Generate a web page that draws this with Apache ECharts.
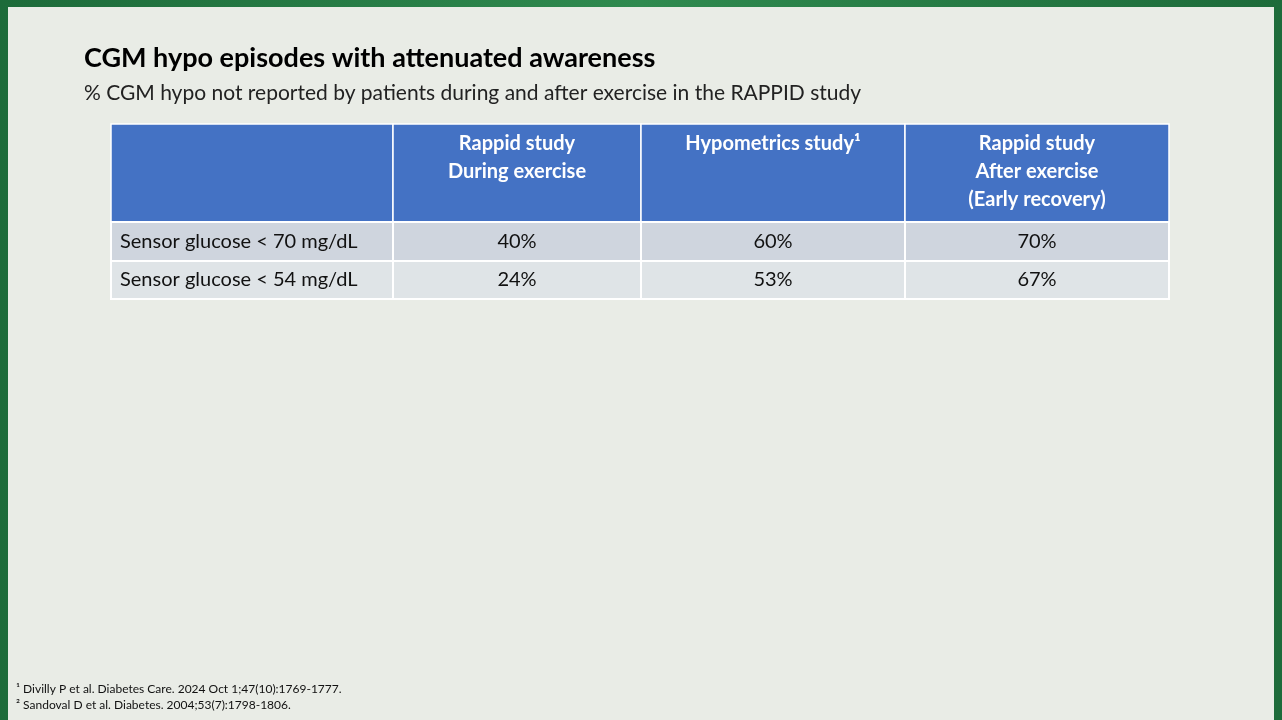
<!DOCTYPE html>
<html><head><meta charset="utf-8">
<script src="https://cdn.jsdelivr.net/npm/echarts@6/dist/echarts.min.js"></script>
<style>
html,body{margin:0;padding:0;width:1282px;height:720px;overflow:hidden;background:linear-gradient(90deg,#1d6b3a,#2f8a4f 50%,#1d6b3a);}
#c{position:absolute;left:8px;top:7px;width:1266px;height:713px;background:#e9ece6;}
</style></head><body><div id="c"></div>
<script>
const title = 'CGM hypo episodes with attenuated awareness';
const subtitle = '% CGM hypo not reported by patients during and after exercise in the RAPPID study';
const headers = ['', 'Rappid study\nDuring exercise', 'Hypometrics study¹', 'Rappid study\nAfter exercise\n(Early recovery)'];
const rowLabels = ['Sensor glucose < 70 mg/dL', 'Sensor glucose < 54 mg/dL'];
const row70 = ['40%', '60%', '70%'];
const row54 = ['24%', '53%', '67%'];
const footnotes = ['¹ Divilly P et al. Diabetes Care. 2024 Oct 1;47(10):1769-1777.', '² Sandoval D et al. Diabetes. 2004;53(7):1798-1806.'];
const colEdges = [0, 282, 530, 794, 1058];
const rowEdges = [0, 98, 137, 175];

const cells = [];
headers.forEach((h, c) => cells.push([c, 0, h]));
[rowLabels[0], ...row70].forEach((v, c) => cells.push([c, 1, v]));
[rowLabels[1], ...row54].forEach((v, c) => cells.push([c, 2, v]));
const fills = ['#4472c4', '#cfd5de', '#dfe4e7'];
const font = 'Lato, "Open Sans", sans-serif';

const chart = echarts.init(document.getElementById('c'));
chart.setOption({
  textStyle: {fontFamily: font},
  title: [
    {text: title, left: 71, top: 33, textStyle: {fontSize: 27, fontWeight: 'bold', color: '#000', fontFamily: font}},
    {text: subtitle, left: 71, top: 71, textStyle: {fontSize: 21, fontWeight: 'normal', color: '#222', fontFamily: font}}
  ],
  graphic: footnotes.map((t, i) => ({type: 'text', left: 8, top: 676 + i * 16, style: {text: t, font: '12px ' + font, fill: '#111'}})),
  grid: {left: 103, top: 117, width: 1058, height: 175},
  xAxis: {type: 'value', min: 0, max: 1058, show: false},
  yAxis: {type: 'value', min: 0, max: 175, inverse: true, show: false},
  series: [{
    type: 'custom',
    data: cells,
    renderItem: function (params, api) {
      const c = api.value(0), r = api.value(1);
      const p0 = api.coord([colEdges[c], rowEdges[r]]);
      const p1 = api.coord([colEdges[c + 1], rowEdges[r + 1]]);
      const w = p1[0] - p0[0], h = p1[1] - p0[1];
      const txt = cells[params.dataIndex][2];
      const header = r === 0;
      return {type: 'group', children: [
        {type: 'rect', shape: {x: p0[0], y: p0[1], width: w, height: h},
         style: {fill: fills[r], stroke: '#ffffff', lineWidth: header ? 1.5 : 2}},
        {type: 'text', style: {
          text: txt,
          x: c === 0 ? p0[0] + 9 : p0[0] + w / 2,
          y: header ? p0[1] + 6 : p0[1] + h / 2,
          align: c === 0 ? 'left' : 'center',
          verticalAlign: header ? 'top' : 'middle',
          font: (header ? 'bold ' : '') + '20px ' + font,
          lineHeight: 28,
          fill: header ? '#ffffff' : '#111'
        }}
      ]};
    }
  }]
});
</script></body></html>
